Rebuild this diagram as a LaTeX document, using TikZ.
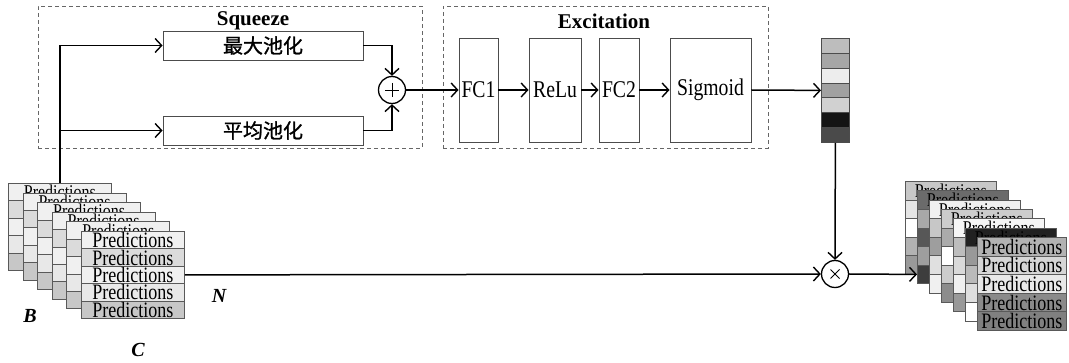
\documentclass[tikz,border=0pt]{standalone}
\usepackage{fontspec}
\setmainfont{Liberation Serif}
\newfontfamily\cjk[FakeBold=1.2]{Noto Sans CJK SC}
\newfontfamily\condf[FakeStretch=0.82]{Liberation Serif}
\usetikzlibrary{arrows.meta,calc}
\newcommand\fsz[1]{\fontsize{#1}{#1}\selectfont}
\begin{document}
\begin{tikzpicture}[x=1pt,y=-1pt,
  conn/.style={line width=1.5pt,-{Straight Barb[length=6.5pt,width=14pt,line width=1.4pt]}},
  grp/.style={draw=black!60,dash pattern=on 4pt off 3pt,line width=0.9pt,inner sep=0pt},
  blk/.style={draw=black!70,line width=0.9pt,fill=white,inner sep=0pt},
  cell/.style={draw=black!65,line width=0.8pt,inner sep=0pt,anchor=north west},
  ttl/.style={font=\fsz{21}\bfseries},
  lab/.style={font=\fsz{20}\bfseries\itshape},
  op/.style={circle,draw=black,line width=1.3pt,minimum size=27pt,inner sep=0pt,fill=white}]
\useasboundingbox (0,0) rectangle (1069,363);

% ---------- Squeeze group
\node[grp,minimum width=384pt,minimum height=142pt] (sq) at (230,77) {};
\node[ttl] (sqt) at (253,21) {Squeeze};
\node[blk,minimum width=200pt,minimum height=29pt,font=\cjk\fsz{20}] (max) at (263,45.5) {最大池化};
\node[blk,minimum width=200pt,minimum height=29pt,font=\cjk\fsz{20}] (avg) at (263,130.5) {平均池化};
\node[op,path picture={\draw[line width=0.9pt] ($(path picture bounding box.center)+(-7,0)$) -- ($(path picture bounding box.center)+(7,0)$);
   \draw[line width=0.9pt] ($(path picture bounding box.center)+(0,-7)$) -- ($(path picture bounding box.center)+(0,7)$);}] (plus) at (392,90) {};

% ---------- Excitation group
\node[grp,minimum width=325pt,minimum height=142pt] (ex) at (605.5,77) {};
\node[ttl] (ext) at (604,21) {Excitation};
\node[blk,minimum width=39pt,minimum height=104pt,font=\condf\fsz{24}] (fc1) at (478.5,90) {FC1};
\node[blk,minimum width=52pt,minimum height=104pt,font=\condf\fsz{24}] (relu) at (555,90) {ReLu};
\node[blk,minimum width=40pt,minimum height=104pt,font=\condf\fsz{24}] (fc2) at (619,90) {FC2};
\node[blk,minimum width=81pt,minimum height=104pt,font=\condf\fsz{24}] (sig) at (710.5,90) {Sigmoid};

% ---------- channel weight bar
\foreach \c [count=\k from 0] in {26,35,7,37,18,92,71}
  \node[cell,draw=black!70,fill=black!\c,minimum width=28pt,minimum height=14.86pt] (B\k) at (821,{38+14.86*\k}) {};

% ---------- left feature stack
\foreach \i in {0,...,4}{
  \foreach \c [count=\j from 0] in {6,14,6,9,22}{
    \node[cell,fill=black!\c,minimum width=103pt,minimum height=17.4pt,font=\condf\fsz{19.5}]
      (A\i-\j) at ({8+14.6*\i},{183+9.6*\i+17.4*\j}) {\ifnum\j=0 \raisebox{-3pt}{Predictions}\fi};
  }
}
\foreach \c [count=\j from 0] in {6,14,6,9,22}
  \node[cell,fill=black!\c,minimum width=103pt,minimum height=17.4pt,font=\condf\fsz{22}]
    (A5-\j) at (81,{231+17.4*\j}) {Predictions};

% ---------- right (reweighted) feature stack
\foreach \i/\cols in {0/{22,10,0,30,40},1/{58,34,66,38,76},2/{6,22,38,12,6},3/{20,33,0,20,45},4/{4,26,15,6,40},5/{87,40,27,13,0}}{
  \foreach \c [count=\j from 0] in \cols{
    \node[cell,fill=black!\c,minimum width=91pt,minimum height=18.6pt,font=\condf\fsz{19.5}]
      (R\i-\j) at ({905+12*\i},{181+9.33*\i+18.6*\j}) {\ifnum\j=0 \raisebox{-3pt}{Predictions}\fi};
  }
}
\foreach \c [count=\j from 0] in {30,16,9,46,50}
  \node[cell,fill=black!\c,minimum width=89pt,minimum height=18.6pt,font=\condf\fsz{22}]
    (R6-\j) at (977,{237+18.6*\j}) {Predictions};

% ---------- multiply
\node[op,path picture={\draw[line width=0.9pt] ($(path picture bounding box.center)+(-4.5,-4.5)$) -- ($(path picture bounding box.center)+(4.5,4.5)$);
   \draw[line width=0.9pt] ($(path picture bounding box.center)+(-4.5,4.5)$) -- ($(path picture bounding box.center)+(4.5,-4.5)$);}] (times) at (835,274) {};

% ---------- labels
\node[lab] (lB) at (30,316) {B};
\node[lab] (lC) at (138,350) {C};
\node[lab] (lN) at (219,296) {N};

% ---------- connectors
\draw[conn] (A0-0.north) |- (max.west);
\draw[conn] (A0-0.north |- avg.west) -- (avg.west);
\draw[conn] (max.east) -| (plus.north);
\draw[conn] (avg.east) -| (plus.south);
\draw[conn] (plus.east) -- (fc1.west);
\draw[conn] (fc1.east) -- (relu.west);
\draw[conn] (relu.east) -- (fc2.west);
\draw[conn] (fc2.east) -- (sig.west);
\draw[conn] (sig.east) -- (B3.west);
\draw[conn] (B6.south) -- (times.north);
\draw[conn] (A5-2.east) -- (times.west);
\draw[conn] (times.east) -- (R1-4.west);
\end{tikzpicture}
\end{document}
